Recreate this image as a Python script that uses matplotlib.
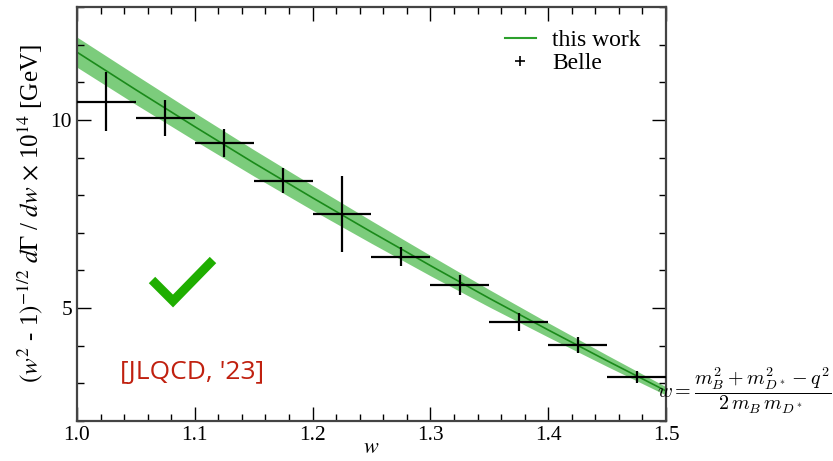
import matplotlib
matplotlib.use("Agg")
import matplotlib.pyplot as plt
from matplotlib.lines import Line2D
import numpy as np

plt.rcParams['font.family'] = ['Liberation Serif', 'DejaVu Serif']
plt.rcParams['mathtext.fontset'] = 'stix'

# Lattice result ("this work"): central curve and band half-width
w_curve = [1.00, 1.05, 1.10, 1.15, 1.20, 1.25, 1.30, 1.35, 1.40, 1.45, 1.50]
y_curve = [11.80, 10.80, 9.82, 8.86, 7.93, 7.02, 6.13, 5.26, 4.42, 3.60, 2.80]
y_err = [0.40, 0.39, 0.37, 0.35, 0.33, 0.30, 0.27, 0.23, 0.19, 0.15, 0.11]

# Belle data
w_belle = [1.025, 1.075, 1.125, 1.175, 1.225, 1.275, 1.325, 1.375, 1.425, 1.475]
y_belle = [10.48, 10.05, 9.39, 8.38, 7.50, 6.36, 5.61, 4.63, 4.02, 3.17]
yerr_belle = [0.78, 0.47, 0.37, 0.33, 1.00, 0.25, 0.27, 0.24, 0.22, 0.17]
xerr_belle = [0.025] * 10

fig = plt.figure(figsize=(8.33, 4.61), dpi=100)
ax = fig.add_axes([77/833, 40/461, 589/833, 414/461])

yc = np.array(y_curve)
ye = np.array(y_err)
ax.fill_between(w_curve, yc - ye, yc + ye, color='#7ccc7c', lw=0, zorder=1)
ax.plot(w_curve, y_curve, color='#1a8a1a', lw=1.2, zorder=2)

ax.errorbar(w_belle, y_belle, yerr=yerr_belle, xerr=xerr_belle, fmt='none',
            ecolor='black', elinewidth=1.6, capsize=0, zorder=3)

ax.set_xlim(1.0, 1.5)
ax.set_ylim(2, 13)
ax.set_xticks([1.0, 1.1, 1.2, 1.3, 1.4, 1.5])
ax.set_xticks(np.arange(1.0, 1.5001, 0.02), minor=True)
ax.set_yticks([5, 10])
ax.set_yticks(range(2, 14), minor=True)
ax.tick_params(which='both', direction='in', top=True, right=True, labelsize=15.5, width=1.0)
ax.tick_params(which='major', length=10)
ax.tick_params(which='minor', length=5)
for s in ax.spines.values():
    s.set_linewidth(1.6)
    s.set_color('#444444')

ax.set_xlabel(r'$w$', fontsize=16, labelpad=-4)
ax.set_ylabel(r'$(w^2$ - 1$)^{-1/2}$ $d\Gamma$ / $dw$ $\times$ 10$^{14}$ [GeV]', fontsize=18, labelpad=4)

handles = [Line2D([], [], color='#2ca02c', lw=1.5),
           Line2D([], [], color='black', marker='+', ls='none', markersize=7, mew=1.2)]
ax.legend(handles, ['this work', 'Belle'], loc='upper right', bbox_to_anchor=(0.985, 0.985),
          frameon=False, fontsize=17, handlelength=1.3, handletextpad=0.7,
          labelspacing=0.05, borderaxespad=0.3)

# check mark
fig.add_artist(Line2D([152/833, 173/833, 213/833], [1 - 280/461, 1 - 301/461, 1 - 260/461],
                      color='#1fae00', lw=6.5, solid_capstyle='butt', solid_joinstyle='miter',
                      transform=fig.transFigure))

fig.text(120/833, 1 - 373/461, "[JLQCD, '23]", color='#c0200f', fontsize=19,
         family=['Open Sans', 'DejaVu Sans'], va='center', ha='left')

fig.text(657/833, 1 - 391/461,
         r'$w = \dfrac{m_B^2 + m_{D^*}^2 - q^2}{2\, m_B\, m_{D^*}}$',
         fontsize=14.5, va='center', ha='left', math_fontfamily='cm')

fig.savefig('out.png', dpi=100)
